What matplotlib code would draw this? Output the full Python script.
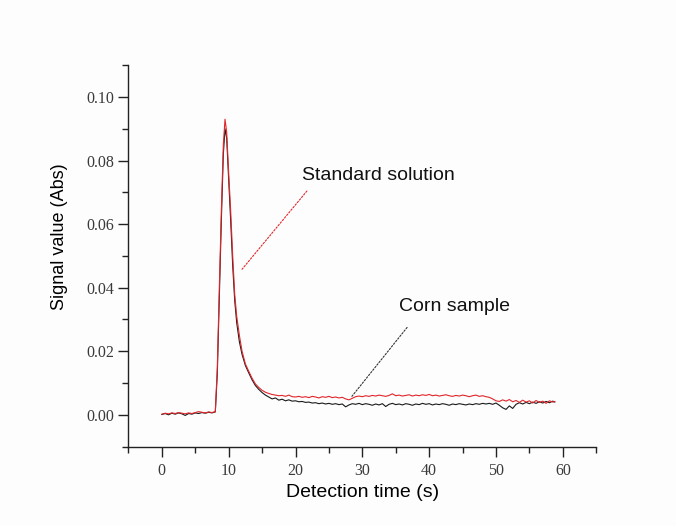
import matplotlib
matplotlib.use("Agg")
import matplotlib.pyplot as plt
from matplotlib.ticker import MultipleLocator, FormatStrFormatter

# ---- data ----
time_base = [0.0, 0.5, 1.0, 1.5, 2.0, 2.5, 3.0, 3.5, 4.0, 4.5, 5.0, 5.5, 6.0, 6.5, 7.0, 7.5, 8.0]
time_peak = [8.3, 8.6, 8.9, 9.2, 9.45, 9.7, 10.0, 10.3, 10.6, 10.9, 11.2, 11.6, 12.0, 12.5, 13.0,
             13.5, 14.0, 14.5, 15.0, 15.5]
time_tail = [16.0, 16.5, 17.0, 17.5, 18.0, 18.5, 19.0, 19.5, 20.0, 20.5,
             21.0, 21.5, 22.0, 22.5, 23.0, 23.5, 24.0, 24.5, 25.0, 25.5,
             26.0, 26.5, 27.0, 27.5, 28.0, 28.5, 29.0, 29.5, 30.0, 30.5,
             31.0, 31.5, 32.0, 32.5, 33.0, 33.5, 34.0, 34.5, 35.0, 35.5,
             36.0, 36.5, 37.0, 37.5, 38.0, 38.5, 39.0, 39.5, 40.0, 40.5,
             41.0, 41.5, 42.0, 42.5, 43.0, 43.5, 44.0, 44.5, 45.0, 45.5,
             46.0, 46.5, 47.0, 47.5, 48.0, 48.5, 49.0, 49.5, 50.0, 50.5,
             51.0, 51.5, 52.0, 52.5, 53.0, 53.5, 54.0, 54.5, 55.0, 55.5,
             56.0, 56.5, 57.0, 57.5, 58.0, 58.5, 58.8]

standard_base = [0.0002, 0.0005, 0.0003, 0.0006, 0.0004, 0.0007, 0.0005, 0.0003, 0.0006, 0.0004,
                 0.0007, 0.0010, 0.0008, 0.0006, 0.0009, 0.0007, 0.0010]
standard_peak = [0.015, 0.040, 0.064, 0.085, 0.093, 0.089, 0.076, 0.064, 0.050, 0.038,
                 0.031, 0.025, 0.020, 0.016, 0.0137, 0.0115, 0.0097, 0.0086, 0.0077, 0.0071]
standard_tail = [0.0067, 0.0064, 0.0062, 0.0060, 0.0061, 0.0058, 0.0062, 0.0057, 0.0056, 0.0058,
                 0.0055, 0.0057, 0.0054, 0.0058, 0.0056, 0.0053, 0.0057, 0.0055, 0.0058, 0.0054,
                 0.0056, 0.0053, 0.0055, 0.0050, 0.0047, 0.0052, 0.0057, 0.0059, 0.0057, 0.0060,
                 0.0058, 0.0061, 0.0059, 0.0062, 0.0060, 0.0058, 0.0061, 0.0066, 0.0060, 0.0062,
                 0.0059, 0.0061, 0.0063, 0.0059, 0.0062, 0.0060, 0.0063, 0.0061, 0.0064, 0.0060,
                 0.0062, 0.0059, 0.0061, 0.0063, 0.0060, 0.0058, 0.0061, 0.0059, 0.0062, 0.0060,
                 0.0057, 0.0060, 0.0062, 0.0058, 0.0060, 0.0057, 0.0055, 0.0050, 0.0044, 0.0042,
                 0.0047, 0.0043, 0.0048, 0.0041, 0.0045, 0.0039, 0.0046, 0.0040, 0.0044, 0.0037,
                 0.0045, 0.0039, 0.0043, 0.0036, 0.0044, 0.0040, 0.0042]

corn_base = [0.0001, 0.0004, 0.0000, 0.0005, 0.0002, 0.0006, 0.0003, -0.0002, 0.0004, 0.0002,
             0.0006, 0.0004, 0.0007, 0.0005, 0.0008, 0.0006, 0.0009]
corn_peak = [0.013, 0.037, 0.061, 0.082, 0.090, 0.087, 0.074, 0.061, 0.047, 0.036,
             0.029, 0.023, 0.019, 0.0155, 0.0132, 0.011, 0.0092, 0.0080, 0.0070, 0.0062]
corn_tail = [0.0056, 0.0050, 0.0053, 0.0046, 0.0049, 0.0044, 0.0047, 0.0043, 0.0044, 0.0041,
             0.0042, 0.0039, 0.0040, 0.0037, 0.0038, 0.0035, 0.0037, 0.0034, 0.0036, 0.0033,
             0.0035, 0.0032, 0.0034, 0.0025, 0.0031, 0.0035, 0.0033, 0.0036, 0.0032, 0.0035,
             0.0033, 0.0030, 0.0034, 0.0031, 0.0035, 0.0026, 0.0033, 0.0036, 0.0032, 0.0034,
             0.0031, 0.0035, 0.0033, 0.0030, 0.0034, 0.0032, 0.0036, 0.0033, 0.0035, 0.0031,
             0.0034, 0.0032, 0.0035, 0.0033, 0.0030, 0.0034, 0.0032, 0.0035, 0.0033, 0.0031,
             0.0034, 0.0032, 0.0035, 0.0033, 0.0036, 0.0034, 0.0036, 0.0033, 0.0037, 0.0030,
             0.0022, 0.0017, 0.0028, 0.0020, 0.0033, 0.0038, 0.0034, 0.0039, 0.0035, 0.0040,
             0.0036, 0.0041, 0.0037, 0.0042, 0.0038, 0.0043, 0.0040]

time_s = time_base + time_peak + time_tail
standard = standard_base + standard_peak + standard_tail
corn = corn_base + corn_peak + corn_tail

label_standard = "Standard solution"
label_corn = "Corn sample"
xlabel = "Detection time (s)"
ylabel = "Signal value (Abs)"

# ---- figure ----
fig = plt.figure(figsize=(6.76, 5.26), dpi=100)
fig.patch.set_facecolor("#fdfdfd")
ax = fig.add_axes([0.190, 0.151, 0.692, 0.725])
ax.set_facecolor("#fdfdfd")

red = "#e0262a"
ax.plot(time_s, corn, color="#1a1a1a", lw=0.8)
ax.plot(time_s, standard, color=red, lw=0.8)

ax.set_xlim(-5, 65)
ax.set_ylim(-0.01, 0.11)
ax.xaxis.set_major_locator(MultipleLocator(10))
ax.xaxis.set_minor_locator(MultipleLocator(5))
ax.yaxis.set_major_locator(MultipleLocator(0.02))
ax.yaxis.set_minor_locator(MultipleLocator(0.01))
ax.yaxis.set_major_formatter(FormatStrFormatter("%.2f"))

for s in ["top", "right"]:
    ax.spines[s].set_visible(False)
for s in ["left", "bottom"]:
    ax.spines[s].set_linewidth(1.0)
    ax.spines[s].set_color("#222222")

ax.tick_params(which="major", direction="out", length=7, width=1.0, color="#222222")
ax.tick_params(which="minor", direction="out", length=4, width=1.0, color="#222222")
ax.tick_params(axis="both", which="major", labelsize=11.5, labelcolor="#3a3a3a")
ax.tick_params(axis="x", which="major", pad=5)
ax.tick_params(axis="y", which="major", pad=3.5)
for lab in ax.get_xticklabels() + ax.get_yticklabels():
    lab.set_family("Liberation Serif")

ax.set_xlabel(xlabel, fontsize=14, family="Liberation Sans")
ax.xaxis.set_label_coords(0.5, -0.121)
ax.xaxis.label.set_va("center")
ax.set_ylabel(ylabel, fontsize=13, family="Liberation Sans")
ax.yaxis.set_label_coords(-0.1465, 0.55)
ax.yaxis.label.set_va("center")

ax.text(20.9, 0.0752, label_standard, fontsize=14, family="Liberation Sans",
        va="center", ha="left", color="#111111")
ax.text(35.5, 0.0342, label_corn, fontsize=14, family="Liberation Sans",
        va="center", ha="left", color="#111111")
ax.annotate("", xy=(12.0, 0.0458), xytext=(21.7, 0.0704),
            arrowprops=dict(arrowstyle="-", linestyle=(0, (1.5, 1.5)), color=red, lw=0.8,
                            shrinkA=0, shrinkB=0))
ax.annotate("", xy=(28.4, 0.0057), xytext=(36.7, 0.0275),
            arrowprops=dict(arrowstyle="-", linestyle=(0, (1.5, 1.5)), color="#333333", lw=0.8,
                            shrinkA=0, shrinkB=0))

fig.savefig("out.png", dpi=100, facecolor=fig.get_facecolor())
